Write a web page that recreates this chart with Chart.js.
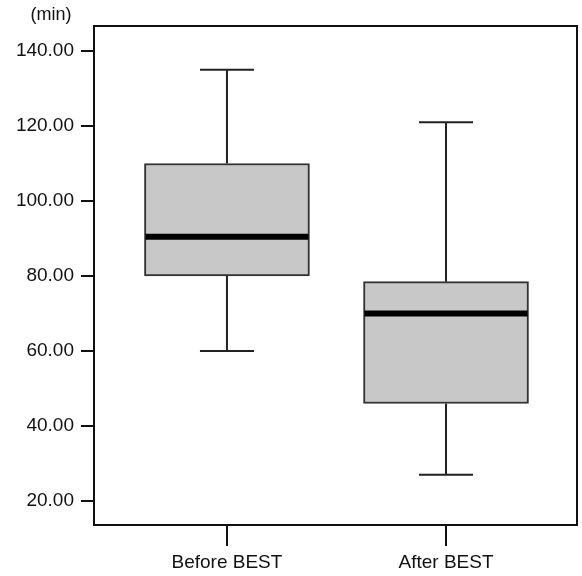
<!DOCTYPE html>
<html>
<head>
<meta charset="utf-8">
<script src="https://cdn.jsdelivr.net/npm/chart.js@4.4.0/dist/chart.umd.min.js"></script>
<style>
html,body{margin:0;padding:0;background:#fff;}
#wrap{width:582px;height:576px;}
</style>
</head>
<body>
<div id="wrap"><canvas id="c" width="582" height="576"></canvas></div>
<script>
const categories = ['Before BEST', 'After BEST'];
const whiskerLow = [60, 27];
const q1 = [80, 46];
const median = [90.5, 70];
const q3 = [110, 78.5];
const whiskerHigh = [135, 121];
const yTickValues = [20, 40, 60, 80, 100, 120, 140];
const unitLabel = '(min)';

const FONT = 'Liberation Sans, Arial, Helvetica, sans-serif';
const INK = '#111';

const boxPlugin = {
  id: 'boxExtras',
  afterDatasetsDraw(chart) {
    const ctx = chart.ctx;
    const xs = chart.scales.x, ys = chart.scales.y;
    ctx.save();
    ctx.strokeStyle = '#222';
    ctx.lineWidth = 2;
    categories.forEach((c, i) => {
      const x = xs.getPixelForValue(i + 1);
      const yLo = ys.getPixelForValue(whiskerLow[i]);
      const yHi = ys.getPixelForValue(whiskerHigh[i]);
      const yQ1 = ys.getPixelForValue(q1[i]);
      const yQ3 = ys.getPixelForValue(q3[i]);
      const cap = 27;
      ctx.beginPath();
      ctx.moveTo(x, yQ3); ctx.lineTo(x, yHi);
      ctx.moveTo(x - cap, yHi); ctx.lineTo(x + cap, yHi);
      ctx.moveTo(x, yQ1); ctx.lineTo(x, yLo);
      ctx.moveTo(x - cap, yLo); ctx.lineTo(x + cap, yLo);
      ctx.stroke();
    });
    const meta = chart.getDatasetMeta(0);
    ctx.strokeStyle = '#000';
    ctx.lineWidth = 6;
    meta.data.forEach((bar, i) => {
      const half = bar.width / 2;
      const ym = ys.getPixelForValue(median[i]);
      ctx.beginPath();
      ctx.moveTo(bar.x - half + 1, ym);
      ctx.lineTo(bar.x + half - 1, ym);
      ctx.stroke();
    });
    ctx.restore();
  },
  afterDraw(chart) {
    const ctx = chart.ctx;
    const a = chart.chartArea;
    ctx.save();
    ctx.strokeStyle = INK;
    ctx.lineWidth = 2;
    ctx.strokeRect(a.left, a.top, a.right - a.left, a.bottom - a.top);
    ctx.fillStyle = INK;
    ctx.font = '18px ' + FONT;
    ctx.textAlign = 'center';
    ctx.textBaseline = 'middle';
    ctx.fillText(unitLabel, a.left - 43, 15);
    ctx.restore();
  }
};

new Chart(document.getElementById('c'), {
  type: 'bar',
  data: {
    datasets: [{
      data: categories.map((c, i) => ({ x: i + 1, y: [q1[i], q3[i]] })),
      backgroundColor: '#c8c8c8',
      borderColor: '#333',
      borderWidth: 2,
      borderSkipped: false,
      barThickness: 165
    }]
  },
  options: {
    responsive: false,
    animation: false,
    layout: { padding: { left: 0, right: 5, top: 26, bottom: 0 } },
    plugins: { legend: { display: false }, tooltip: { enabled: false }, title: { display: false } },
    scales: {
      x: {
        type: 'linear',
        offset: false,
        min: 0.393,
        max: 2.598,
        afterBuildTicks(scale) { scale.ticks = categories.map((c, i) => ({ value: i + 1 })); },
        afterFit(scale) { scale.height = 51; },
        border: { display: false },
        grid: { offset: false, drawOnChartArea: false, drawTicks: true, tickLength: 21, color: INK, lineWidth: 2 },
        ticks: {
          color: INK,
          font: { size: 19, family: FONT },
          padding: 5,
          maxRotation: 0,
          callback: (v) => categories[Math.round(v) - 1] || ''
        }
      },
      y: {
        type: 'linear',
        min: 13.6,
        max: 146.67,
        afterBuildTicks(scale) { scale.ticks = yTickValues.map(v => ({ value: v })); },
        afterFit(scale) { scale.width = 94; },
        border: { display: false },
        grid: { drawOnChartArea: false, drawTicks: true, tickLength: 13, color: INK, lineWidth: 2 },
        ticks: {
          color: INK,
          font: { size: 19, family: FONT },
          padding: 7,
          callback: (v) => Number(v).toFixed(2)
        }
      }
    }
  },
  plugins: [boxPlugin]
});
</script>
</body>
</html>
